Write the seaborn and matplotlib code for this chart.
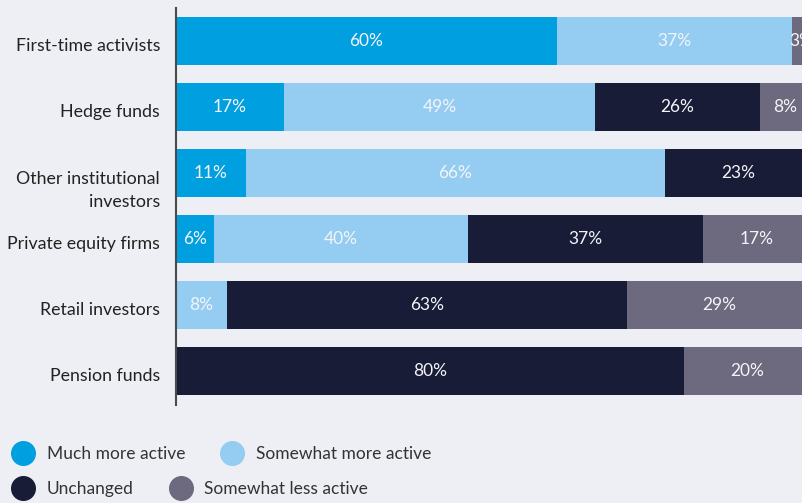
import matplotlib
matplotlib.use("Agg")
import matplotlib.pyplot as plt
import matplotlib.transforms as mtransforms
from matplotlib.lines import Line2D
import seaborn as sns
import pandas as pd
import numpy as np

categories = ["First-time activists", "Hedge funds", "Other institutional\ninvestors",
              "Private equity firms", "Retail investors", "Pension funds"]
series_names = ["Much more active", "Somewhat more active", "Unchanged", "Somewhat less active"]
much_more = [60, 17, 11, 6, 0, 0]
somewhat_more = [37, 49, 66, 40, 8, 0]
unchanged = [0, 26, 23, 37, 63, 80]
somewhat_less = [3, 8, 0, 17, 29, 20]
colors = ["#009fdf", "#94cdf1", "#181c36", "#6d6a7f"]

BG = "#eeeff4"
sns.set_theme(style="white")
plt.rcParams["font.family"] = ["Lato", "DejaVu Sans"]

values = np.array([much_more, somewhat_more, unchanged, somewhat_less], dtype=float)
cum = values.cumsum(axis=0)
starts = cum - values

fig = plt.figure(figsize=(8.02, 5.03), dpi=100, facecolor=BG)
ax = fig.add_axes([176 / 802, 1 - 405 / 503, 635 / 802, 397 / 503])
ax.set_facecolor(BG)

# stacked bars: draw cumulative totals from the outermost layer inward
for i in range(len(series_names) - 1, -1, -1):
    df = pd.DataFrame({"category": categories, "total": cum[i]})
    sns.barplot(data=df, x="total", y="category", orient="h", color=colors[i],
                width=48 / 66, saturation=1, ax=ax, linewidth=0)

for i in range(len(series_names)):
    for j, cat in enumerate(categories):
        v = values[i, j]
        if v <= 0:
            continue
        ax.text(starts[i, j] + v / 2, j, f"{int(v)}%", ha="center", va="center",
                color="#f4f4f8", fontsize=12.5)

ax.set_xlim(0, 100)
ax.set_ylim(5.515, -0.5)
ax.set_xlabel("")
ax.set_ylabel("")
ax.set_xticks([])
ax.tick_params(axis="y", length=0, pad=11.5, labelsize=12.8, labelcolor="#222222")
for lbl in ax.get_yticklabels():
    lbl.set_horizontalalignment("right")
    lbl.set_linespacing(1.55)
    # two-line labels hang a little lower than single-line ones
    dy = 12 if "\n" in lbl.get_text() else 3
    shift = mtransforms.ScaledTranslation(0, -dy / 100, fig.dpi_scale_trans)
    lbl.set_transform(lbl.get_transform() + shift)
for s in ["top", "right", "bottom"]:
    ax.spines[s].set_visible(False)
ax.spines["left"].set_color("#4a4a4a")
ax.spines["left"].set_linewidth(1.5)

def handle(c):
    return Line2D([], [], marker="o", linestyle="none", markersize=17,
                  markerfacecolor=c, markeredgecolor=c)

common = dict(frameon=False, fontsize=12.5, handletextpad=0.75, columnspacing=2.1,
              borderpad=0, borderaxespad=0, labelcolor="#333333", handlelength=1.2)
leg1 = fig.legend([handle(colors[0]), handle(colors[1])], series_names[:2], ncol=2,
                  loc="center left", bbox_to_anchor=(13 / 802, 1 - 454 / 503), **common)
leg2 = fig.legend([handle(colors[2]), handle(colors[3])], series_names[2:], ncol=2,
                  loc="center left", bbox_to_anchor=(13 / 802, 1 - 489 / 503), **common)

fig.savefig("out.png", dpi=100, facecolor=BG)
